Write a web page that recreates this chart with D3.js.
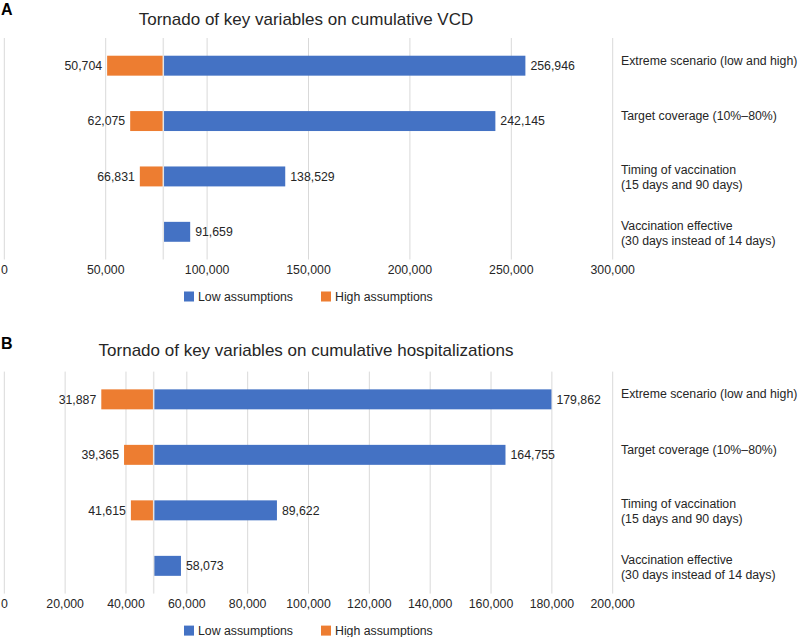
<!DOCTYPE html>
<html>
<head>
<meta charset="utf-8">
<script src="https://cdn.jsdelivr.net/npm/d3@7"></script>
<style>
  body { margin: 0; background: #fff; }
  svg text { font-family: "Liberation Sans", Arial, sans-serif; fill: #262626; }
</style>
</head>
<body>
<script>
// categories (multi-line labels as arrays)
var categories = [
    ["Extreme scenario (low and high)"],
    ["Target coverage (10%\u201380%)"],
    ["Timing of vaccination", "(15 days and 90 days)"],
    ["Vaccination effective", "(30 days instead of 14 days)"]
];

// panel A: cumulative VCD
var vcdBase = 78400;
var vcdLow = [256946, 242145, 138529, 91659];
var vcdHigh = [50704, 62075, 66831, null];
var vcdTicks = [0, 50000, 100000, 150000, 200000, 250000, 300000];

// panel B: cumulative hospitalizations
var hospBase = 49100;
var hospLow = [179862, 164755, 89622, 58073];
var hospHigh = [31887, 39365, 41615, null];
var hospTicks = [0, 20000, 40000, 60000, 80000, 100000, 120000, 140000, 160000, 180000, 200000];

var seriesNames = ["Low assumptions", "High assumptions"];
var colors = ["#4472C4", "#ED7D31"];

var width = 799, height = 637;
var fmt = d3.format(",");

var svg = d3.select("body").append("svg")
    .attr("width", width)
    .attr("height", height);

function panel(opts) {
    var g = svg.append("g");

    var x = d3.scaleLinear()
        .domain([0, d3.max(opts.ticks)])
        .range([4.3, 612.7]);

    var y = d3.scaleBand()
        .domain(d3.range(categories.length))
        .range([opts.top, opts.bottom])
        .paddingInner(0.64)
        .paddingOuter(0.32);

    g.append("text")
        .attr("x", 1)
        .attr("y", opts.top - 23)
        .style("font-size", "16px")
        .style("font-weight", "bold")
        .style("fill", "#000")
        .text(opts.letter);

    g.append("text")
        .attr("x", 306)
        .attr("y", opts.titleY)
        .attr("text-anchor", "middle")
        .attr("dy", "0.35em")
        .style("font-size", "17px")
        .text(opts.title);

    // gridlines
    g.append("g").selectAll("line")
        .data(opts.ticks).enter()
        .append("line")
        .attr("x1", d => x(d)).attr("x2", d => x(d))
        .attr("y1", opts.top).attr("y2", opts.bottom)
        .style("stroke", "#d9d9d9")
        .style("stroke-width", 1);

    // tick labels
    g.append("g").selectAll("text")
        .data(opts.ticks).enter()
        .append("text")
        .attr("x", d => x(d))
        .attr("y", opts.bottom + 10)
        .attr("dy", "0.35em")
        .attr("text-anchor", "middle")
        .style("font-size", "12.3px")
        .text(d => fmt(d));

    var rows = categories.map((c, i) => ({i: i, low: opts.low[i], high: opts.high[i]}));

    // low assumptions bars (right of base)
    g.append("g").selectAll("rect")
        .data(rows).enter()
        .append("rect")
        .attr("x", x(opts.base))
        .attr("y", d => y(d.i))
        .attr("width", d => x(d.low) - x(opts.base))
        .attr("height", y.bandwidth())
        .style("fill", colors[0]);

    // high assumptions bars (left of base)
    g.append("g").selectAll("rect")
        .data(rows.filter(d => d.high != null)).enter()
        .append("rect")
        .attr("x", d => x(d.high))
        .attr("y", d => y(d.i))
        .attr("width", d => x(opts.base) - x(d.high))
        .attr("height", y.bandwidth())
        .style("fill", colors[1]);

    // base line
    g.append("line")
        .attr("x1", x(opts.base)).attr("x2", x(opts.base))
        .attr("y1", opts.top).attr("y2", opts.bottom)
        .style("stroke", "#e4e4e4")
        .style("stroke-width", 1.5);

    // value labels
    g.append("g").selectAll("text")
        .data(rows).enter()
        .append("text")
        .attr("x", d => x(d.low) + 5)
        .attr("y", d => y(d.i) + y.bandwidth() / 2)
        .attr("dy", "0.35em")
        .style("font-size", "12.3px")
        .text(d => fmt(d.low));

    g.append("g").selectAll("text")
        .data(rows.filter(d => d.high != null)).enter()
        .append("text")
        .attr("x", d => x(d.high) - 5)
        .attr("y", d => y(d.i) + y.bandwidth() / 2)
        .attr("dy", "0.35em")
        .attr("text-anchor", "end")
        .style("font-size", "12.3px")
        .text(d => fmt(d.high));

    // category labels on the right
    var cat = g.append("g").selectAll("text")
        .data(categories).enter()
        .append("text")
        .attr("x", 621)
        .attr("y", (d, i) => y(i) + y.bandwidth() / 2 + (d.length > 1 ? -2 : -1))
        .attr("dy", "0.35em")
        .style("font-size", "12.3px");
    cat.selectAll("tspan")
        .data(d => d).enter()
        .append("tspan")
        .attr("x", 621)
        .attr("dy", (d, j) => j ? "1.2em" : 0)
        .text(d => d);

    // legend
    var lg = g.append("g")
        .attr("transform", "translate(184," + (opts.bottom + 37) + ")");
    var item = lg.selectAll("g")
        .data(seriesNames).enter()
        .append("g")
        .attr("transform", (d, i) => "translate(" + (i * 137) + ",0)");
    item.append("rect")
        .attr("x", 0).attr("y", -5)
        .attr("width", 10).attr("height", 10)
        .style("fill", (d, i) => colors[i]);
    item.append("text")
        .attr("x", 14)
        .attr("dy", "0.35em")
        .style("font-size", "12.3px")
        .text(d => d);
}

panel({
    letter: "A",
    title: "Tornado of key variables on cumulative VCD",
    titleY: 19,
    top: 38, bottom: 259.5,
    base: vcdBase, low: vcdLow, high: vcdHigh, ticks: vcdTicks
});

panel({
    letter: "B",
    title: "Tornado of key variables on cumulative hospitalizations",
    titleY: 350,
    top: 371.6, bottom: 593.6,
    base: hospBase, low: hospLow, high: hospHigh, ticks: hospTicks
});
</script>
</body>
</html>
